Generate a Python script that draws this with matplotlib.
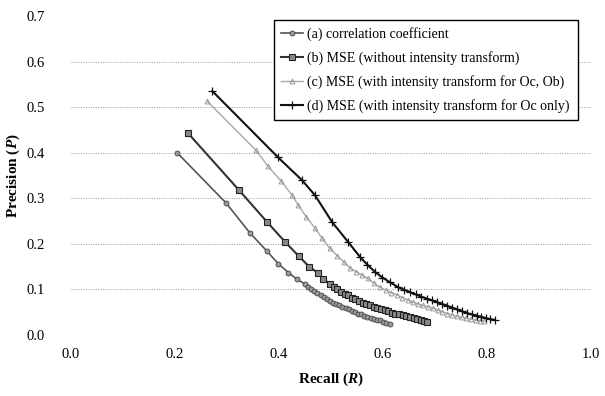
import matplotlib
matplotlib.use("Agg")
import matplotlib.pyplot as plt

plt.rcParams['font.family'] = ['Liberation Serif', 'DejaVu Serif']
plt.rcParams['mathtext.fontset'] = 'custom'
plt.rcParams['mathtext.bfit'] = 'Liberation Serif:italic:bold'
plt.rcParams['mathtext.it'] = 'Liberation Serif:italic'
plt.rcParams['mathtext.rm'] = 'Liberation Serif'

labels = ["(a) correlation coefficient",
          "(b) MSE (without intensity transform)",
          "(c) MSE (with intensity transform for Oc, Ob)",
          "(d) MSE (with intensity transform for Oc only)"]

a_r = [0.204, 0.298, 0.344, 0.376, 0.399, 0.418, 0.435, 0.450, 0.456, 0.462, 0.468,
       0.474, 0.480, 0.486, 0.492, 0.498, 0.504, 0.510, 0.516, 0.522, 0.528, 0.534,
       0.540, 0.546, 0.552, 0.558, 0.564, 0.570, 0.576, 0.582, 0.588, 0.594, 0.600,
       0.606, 0.613]
a_p = [0.400, 0.290, 0.224, 0.185, 0.156, 0.137, 0.122, 0.112, 0.106, 0.101, 0.097,
       0.092, 0.088, 0.083, 0.078, 0.075, 0.071, 0.068, 0.065, 0.062, 0.059, 0.056,
       0.053, 0.050, 0.047, 0.045, 0.042, 0.040, 0.038, 0.036, 0.034, 0.032, 0.029,
       0.027, 0.024]

b_r = [0.225, 0.323, 0.377, 0.412, 0.438, 0.458, 0.475, 0.485, 0.498, 0.505, 0.512,
       0.519, 0.526, 0.533, 0.540, 0.547, 0.554, 0.561, 0.568, 0.575, 0.582, 0.589,
       0.596, 0.603, 0.610, 0.617, 0.624, 0.631, 0.638, 0.645, 0.652, 0.659, 0.666,
       0.673, 0.679, 0.685]
b_p = [0.443, 0.318, 0.248, 0.204, 0.173, 0.150, 0.136, 0.123, 0.112, 0.106, 0.100,
       0.095, 0.091, 0.087, 0.082, 0.078, 0.074, 0.071, 0.068, 0.065, 0.062, 0.059,
       0.056, 0.054, 0.052, 0.049, 0.047, 0.045, 0.043, 0.041, 0.039, 0.037, 0.035,
       0.033, 0.031, 0.028]

c_r = [0.262, 0.356, 0.379, 0.404, 0.425, 0.437, 0.452, 0.469, 0.483, 0.498, 0.512,
       0.525, 0.537, 0.548, 0.559, 0.571, 0.582, 0.594, 0.605, 0.616, 0.627, 0.637,
       0.648, 0.658, 0.668, 0.677, 0.687, 0.696, 0.705, 0.714, 0.724, 0.733, 0.742,
       0.751, 0.760, 0.769, 0.778, 0.786, 0.794]
c_p = [0.513, 0.405, 0.370, 0.338, 0.307, 0.285, 0.260, 0.235, 0.212, 0.190, 0.174,
       0.160, 0.147, 0.139, 0.132, 0.124, 0.114, 0.105, 0.099, 0.093, 0.088, 0.082,
       0.077, 0.072, 0.068, 0.065, 0.062, 0.059, 0.055, 0.051, 0.047, 0.044, 0.041,
       0.039, 0.037, 0.035, 0.033, 0.031, 0.030]

d_r = [0.272, 0.398, 0.444, 0.469, 0.502, 0.533, 0.556, 0.570, 0.585, 0.599, 0.613,
       0.629, 0.641, 0.652, 0.663, 0.674, 0.684, 0.694, 0.704, 0.714, 0.723, 0.733,
       0.743, 0.752, 0.762, 0.771, 0.780, 0.789, 0.798, 0.806, 0.815]
d_p = [0.535, 0.390, 0.340, 0.307, 0.248, 0.204, 0.171, 0.154, 0.138, 0.126, 0.116,
       0.105, 0.099, 0.094, 0.089, 0.084, 0.080, 0.076, 0.072, 0.068, 0.064, 0.060,
       0.056, 0.052, 0.048, 0.045, 0.042, 0.040, 0.037, 0.035, 0.033]

x_ticks = [0.0, 0.2, 0.4, 0.6, 0.8, 1.0]
y_ticks = [0.0, 0.1, 0.2, 0.3, 0.4, 0.5, 0.6, 0.7]

fig = plt.figure(figsize=(6.05, 3.96), dpi=100)
ax = fig.add_axes([71/605, 1-335/396, 520/605, 319/396])

ax.plot(a_r, a_p, color='#555555', lw=1.2, marker='o', ms=3.6,
        mfc='#9a9a9a', mec='#444444', mew=0.6, label=labels[0], zorder=3)
ax.plot(b_r, b_p, color='#333333', lw=1.5, marker='s', ms=4.8,
        mfc='#8a8a8a', mec='#222222', mew=0.8, label=labels[1], zorder=3)
ax.plot(c_r, c_p, color='#a8a8a8', lw=1.0, marker='^', ms=3.5,
        mfc='none', mec='#9a9a9a', mew=0.7, label=labels[2], zorder=3)
ax.plot(d_r, d_p, color='#111111', lw=1.5, marker='+', ms=6,
        mec='#111111', mew=0.9, label=labels[3], zorder=4)

ax.set_xlim(0, 1.0)
ax.set_ylim(0, 0.7)
ax.set_xticks(x_ticks)
ax.set_yticks(y_ticks)
ax.set_xticklabels([f"{v:.1f}" for v in x_ticks])
ax.set_yticklabels([f"{v:.1f}" for v in y_ticks])
for s in ax.spines.values():
    s.set_visible(False)
ax.tick_params(axis='both', length=0, labelsize=10.5)
ax.tick_params(axis='x', pad=9)
ax.tick_params(axis='y', pad=19)
for y in y_ticks[:-1]:
    ax.axhline(y, color='#999999', lw=0.7, ls=(0, (1, 1.5)), zorder=1)

ax.set_xlabel(r"Recall ($\mathbfit{R}$)", fontsize=11, fontweight='bold', labelpad=7)
ax.set_ylabel(r"Precision ($\mathbfit{P}$)", fontsize=11, fontweight='bold', labelpad=3)

leg = ax.legend(loc='upper left', bbox_to_anchor=(0.39, 0.687, 0.585, 0.30),
                mode='expand', fontsize=10, frameon=True, fancybox=False,
                edgecolor='black', framealpha=1, labelspacing=0.72,
                handlelength=1.6, handletextpad=0.3, borderpad=0.5,
                borderaxespad=0)
leg.get_frame().set_linewidth(1.0)

fig.savefig("out.png", dpi=100)
